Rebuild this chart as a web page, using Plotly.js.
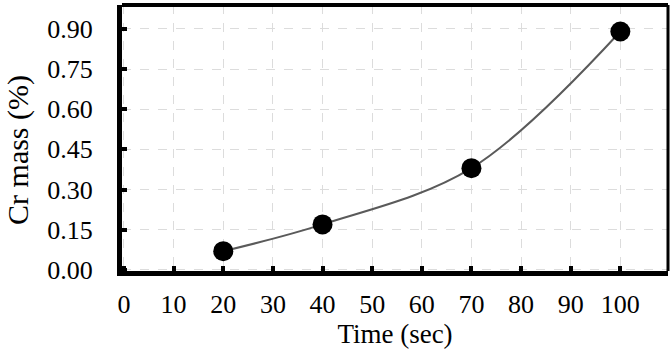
<!DOCTYPE html>
<html>
<head>
<meta charset="utf-8">
<script src="https://cdn.plot.ly/plotly-3.0.1.min.js"></script>
<style>html,body{margin:0;padding:0;background:#fff;}#chart{width:672px;height:355px;}</style>
</head>
<body>
<div id="chart"></div>
<script>
const timeSec = [20, 40, 70, 100];
const crMass = [0.07, 0.17, 0.38, 0.89];
const xTicks = [0, 10, 20, 30, 40, 50, 60, 70, 80, 90, 100];
const yTicks = [0, 0.15, 0.30, 0.45, 0.60, 0.75, 0.90];

const FAM = 'Liberation Serif, Times New Roman, serif';

const traces = [{
  x: timeSec, y: crMass, type: 'scatter', mode: 'lines+markers',
  line: {shape: 'spline', color: '#5a5a5a', width: 2},
  marker: {color: '#000', size: 20},
  showlegend: false, cliponaxis: false
}];

const layout = {
  width: 672, height: 355,
  margin: {l: 122, r: 4, t: 5, b: 84},
  paper_bgcolor: '#fff', plot_bgcolor: '#fff',
  font: {family: FAM, size: 26, color: '#000'},
  xaxis: {
    range: [-0.4, 109.6], tickvals: xTicks, ticktext: xTicks.map(String),
    showline: true, linecolor: '#000', linewidth: 5,
    ticks: 'inside', ticklen: 5, tickwidth: 4, tickcolor: '#000',
    showgrid: true, gridcolor: '#dcdcdc', griddash: 'dash', gridwidth: 1,
    zeroline: false, automargin: false,
    tickfont: {family: FAM, size: 26, color: '#000'}, ticklabelstandoff: 6,
    title: {text: 'Time (sec)', font: {family: FAM, size: 27, color: '#000'}, standoff: 6}
  },
  yaxis: {
    range: [-0.004, 0.989], tickvals: yTicks, ticktext: yTicks.map(v => v.toFixed(2)),
    showline: true, linecolor: '#000', linewidth: 5,
    ticks: 'inside', ticklen: 5, tickwidth: 4, tickcolor: '#000',
    showgrid: true, gridcolor: '#dcdcdc', griddash: 'dash', gridwidth: 1,
    zeroline: false, automargin: false,
    tickfont: {family: FAM, size: 26, color: '#000'}, ticklabelstandoff: 19
  },
  annotations: [{
    text: 'Cr mass (%)', textangle: -90, showarrow: false,
    xref: 'paper', yref: 'paper', x: -0.1905, y: 0.455,
    xanchor: 'center', yanchor: 'middle', borderpad: 0,
    font: {family: FAM, size: 30, color: '#000'}
  }],
  shapes: [
    {type: 'line', xref: 'paper', yref: 'paper', x0: 0, x1: 1, y0: 1, y1: 1, line: {color: '#000', width: 4}},
    {type: 'line', xref: 'paper', yref: 'paper', x0: 1, x1: 1, y0: 0, y1: 1, line: {color: '#000', width: 3}}
  ]
};

Plotly.newPlot('chart', traces, layout, {displayModeBar: false, staticPlot: true});
</script>
</body>
</html>
